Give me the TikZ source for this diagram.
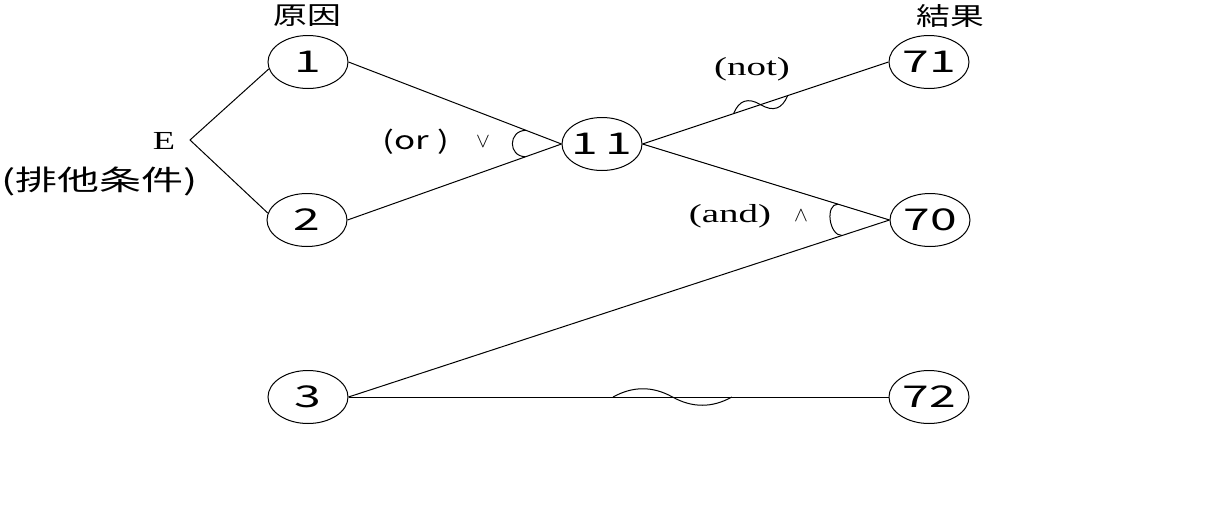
\documentclass[tikz,border=0pt]{standalone}
\usepackage{fontspec}
\usepackage{graphicx}
\newfontfamily\jp{Noto Sans CJK JP}
\newfontfamily\serif{Liberation Serif}
\usetikzlibrary{calc,shapes.geometric}
\newcommand\sx[2]{\scalebox{#1}[1]{#2}}
\newcommand\dg[1]{\makebox[0pt]{\sx{1.6}{#1}}}
\tikzset{
  ev/.style={ellipse, draw, line width=1pt, minimum width=80pt, minimum height=53pt, inner sep=0pt, font=\jp\fontsize{30}{30}\selectfont},
  ln/.style={line width=1pt},
  lab/.style={inner sep=0pt},
}
\newcommand\tildeon[3]{%
  \path (#1) -- (#2) coordinate[pos=#3] (tA) coordinate[pos=#3+0.11] (tM) coordinate[pos=#3+0.22] (tB);
  \draw[ln] (tA) .. controls ($(tA)!0.333!(tM)!11pt!90:(tM)$) and ($(tA)!0.667!(tM)!11pt!90:(tM)$) .. (tM)
    .. controls ($(tM)!0.333!(tB)!11pt!-90:(tB)$) and ($(tM)!0.667!(tB)!11pt!-90:(tB)$) .. (tB);
}
\begin{document}
\begin{tikzpicture}[x=1pt,y=-1pt]
\useasboundingbox (0,0) rectangle (1224,525);
% nodes
\node[ev] (n1) at (308,62) {\dg{1}};
\node[ev] (n2) at (307,220) {\dg{2}};
\node[ev] (n3) at (308,397) {\dg{3}};
\node[ev] (n11) at (602,144) {\dg{1\,1}};
\node[ev] (n71) at (929,62) {\dg{71}};
\node[ev] (n70) at (930,220) {\dg{70}};
\node[ev] (n72) at (929,397) {\dg{72}};
\coordinate (E) at (190,140);
% labels
\node[lab, font=\jp\fontsize{25}{25}\selectfont] (cause) at (307,16) {\sx{1.35}{原因}};
\node[lab, font=\jp\fontsize{25}{25}\selectfont] (effect) at (950,16) {\sx{1.35}{結果}};
\node[lab, font=\serif\fontsize{26}{26}\selectfont] (Elab) at (164,141) {\sx{1.4}{E}};
\node[lab, font=\jp\fontsize{28}{28}\selectfont] (excl) at (100,181) {\sx{1.5}{(排他条件)}};
\node[lab, font=\jp\fontsize{25}{25}\selectfont] (orlab) at (416,142) {\sx{1.4}{(or )}};
\node[lab, font=\fontsize{20}{20}\selectfont] (orsym) at (483,142) {$\vee$};
\node[lab, font=\serif\fontsize{26}{26}\selectfont] (notlab) at (752,69) {\sx{1.5}{(not)}};
\node[lab, font=\serif\fontsize{26}{26}\selectfont] (andlab) at (730,216) {\sx{1.5}{(and)}};
\node[lab, font=\fontsize{20}{20}\selectfont] (andsym) at (801,216) {$\wedge$};
% connectors
\draw[ln] (n1.190) -- (E) -- (n2.170);
\draw[ln] (n1.east) -- (n11.west);
\draw[ln] (n2.east) -- (n11.west);
\draw[ln] (n11.east) -- (n71.west);
\draw[ln] (n11.east) -- (n70.west);
\draw[ln] (n3.east) -- (n70.west);
\draw[ln] (n3.east) -- (n72.west);
% or arc
\coordinate (o1) at ($(n11.west)!38pt!(n1.east)$);
\coordinate (o2) at ($(n11.west)!38pt!(n2.east)$);
\draw[ln] (o1) .. controls +(-18,0) and +(-18,0) .. (o2);
% and arc
\coordinate (a1) at ($(n70.west)!54pt!(n11.east)$);
\coordinate (a2) at ($(n70.west)!50pt!(n3.east)$);
\draw[ln] (a1) .. controls +(-13,0) and +(-13,0) .. (a2);
% tildes
\tildeon{n11.east}{n71.west}{0.37}
\tildeon{n3.east}{n72.west}{0.49}
\end{tikzpicture}
\end{document}
